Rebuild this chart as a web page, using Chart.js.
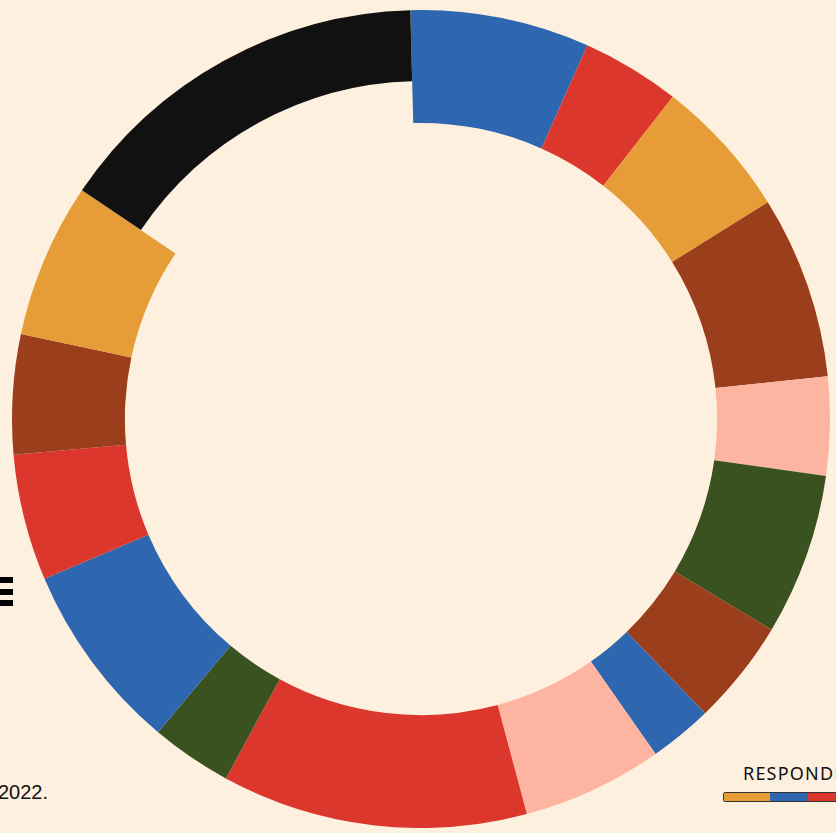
<!DOCTYPE html>
<html>
<head>
<meta charset="utf-8">
<script src="https://cdn.jsdelivr.net/npm/chart.js@4"></script>
<style>
  html, body { margin: 0; padding: 0; background: #fef0df; width: 836px; height: 833px; overflow: hidden; }
  #ring { position: absolute; left: 12px; top: 10px; width: 818px; height: 818px; }
  .menu { position: absolute; left: 0; width: 13px; height: 6px; background: #000; }
  .year { position: absolute; left: -2px; top: 781px; font: 20px "Liberation Sans", Arial, sans-serif; color: #111; }
  .resp { position: absolute; left: 743px; top: 761px; font: 18px "Noto Sans", sans-serif; letter-spacing: 1.2px; color: #111; white-space: nowrap; }
  .bar { position: absolute; top: 792px; height: 8px; border: 1px solid #333; border-radius: 2px; display: flex; left: 723px; width: 130px; overflow: hidden; }
  .bar div { height: 100%; }
</style>
</head>
<body>
<div class="menu" style="top:577px"></div>
<div class="menu" style="top:589px"></div>
<div class="menu" style="top:600px"></div>
<div class="year">2022.</div>
<div class="resp">RESPONDENTS</div>
<div class="bar">
  <div style="width:46px;background:#e69c37"></div>
  <div style="width:38px;background:#2e67af"></div>
  <div style="width:46px;background:#db372d"></div>
</div>
<canvas id="ring"></canvas>
<script>
// segments read clockwise from 12 o'clock, sizes in degrees of the ring
const segments = ['S1', 'S2', 'S3', 'S4', 'S5', 'S6', 'S7', 'S8', 'S9', 'S10', 'S11', 'S12', 'S13', 'S14', 'S15', 'S16'];
const shares = [25.5, 14, 20, 26, 14, 23, 15, 9, 20, 43.5, 11.5, 27, 18, 17, 22, 54.5];
const colours = ['#2e67af', '#db372d', '#e69c37', '#9a3e1b', '#fdb4a0', '#3a5220', '#9a3e1b', '#2e67af',
                 '#fdb4a0', '#db372d', '#3a5220', '#2e67af', '#db372d', '#9a3e1b', '#e69c37', '#111111'];

// last (black) segment is drawn thinner than the rest
const thinLast = {
    id: 'thinLast',
    afterDatasetUpdate(chart) {
        const arcs = chart.getDatasetMeta(0).data;
        const last = arcs[arcs.length - 1];
        last.innerRadius = last.outerRadius * 0.826;
    }
};

const ringCtx = document.getElementById('ring').getContext('2d');
const ringChart = new Chart(ringCtx, {
    type: 'doughnut',
    data: {
        labels: segments,
        datasets: [{
            data: shares,
            backgroundColor: colours,
            borderWidth: 0
        }]
    },
    options: {
        responsive: false,
        animation: false,
        rotation: -1.5,
        cutout: '72.4%',
        layout: { padding: 0 },
        plugins: { legend: { display: false }, tooltip: { enabled: false } }
    },
    plugins: [thinLast]
});
</script>
</body>
</html>
